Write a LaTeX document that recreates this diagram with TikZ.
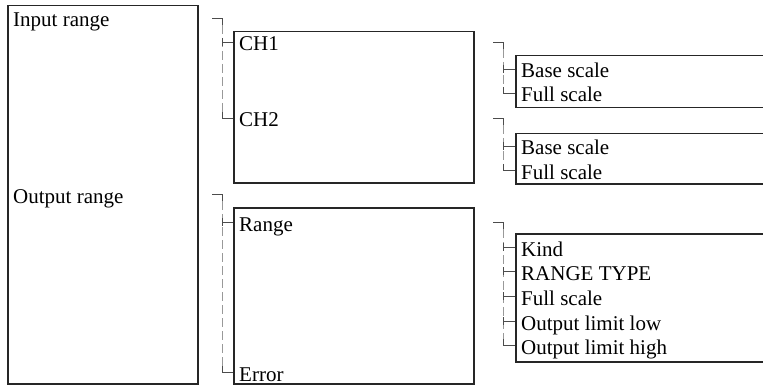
\documentclass[tikz,border=0pt]{standalone}
\usepackage{fontspec}
\setmainfont{Liberation Serif}
\usetikzlibrary{positioning}
\tikzset{
  panel/.style={
    draw=black!85,
    line width=1.5pt,
    anchor=north west,
    inner sep=0pt
  },
  item/.style={
    anchor=west,
    inner xsep=6pt,
    inner ysep=0pt,
    text height=20pt,
    text depth=2pt,
    font=\fontsize{21}{23}\selectfont
  },
  guide/.style={draw=black!40, line width=0.9pt, dash pattern=on 9pt off 4pt},
  tick/.style={draw=black!70, line width=0.8pt}
}

\begin{document}
\begin{tikzpicture}[x=1pt, y=-1pt]
        \useasboundingbox (0,0) rectangle (763,385);
        \clip (0,0) rectangle (763,385);

        % panels
        \node[panel, minimum width=190pt, minimum height=378pt] (pMain) at (7,5) {};
        \node[panel, minimum width=240pt, minimum height=151pt] (pInput) at (233,31) {};
        \node[panel, minimum width=240pt, minimum height=176pt] (pOutput) at (233,207) {};
        \node[panel, minimum width=260pt, minimum height=52pt] (pCHa) at (515,55) {};
        \node[panel, minimum width=260pt, minimum height=50pt] (pCHb) at (515,133) {};
        \node[panel, minimum width=260pt, minimum height=128pt] (pRange) at (515,233) {};

        % items
        \node[item] (inRange) at (7,18) {Input range};
        \node[item] (outRange) at (7,194) {Output range};

        \node[item] (ch1) at (233,42) {CH1};
        \node[item] (ch2) at (233,118) {CH2};
        \node[item] (rng) at (233,222) {Range};
        \node[item] (err) at (233,372) {Error};

        \node[item] (bs1) at (515,69) {Base scale};
        \node[item] (fs1) at (515,93) {Full scale};
        \node[item] (bs2) at (515,146) {Base scale};
        \node[item] (fs2) at (515,170) {Full scale};
        \node[item] (kind) at (515,247) {Kind};
        \node[item] (rtype) at (515,271) {RANGE TYPE};
        \node[item] (fs3) at (515,296) {Full scale};
        \node[item] (olow) at (515,321) {Output limit low};
        \node[item] (ohigh) at (515,345) {Output limit high};

        % tree lines
        \foreach \up/\gx/\kids/\last in {inRange/222/ch1/ch2, outRange/222/rng/err,
            ch1/503/bs1/fs1, ch2/503/bs2/fs2, rng/503/{kind,rtype,fs3,olow}/ohigh} {
            \coordinate (g) at (\gx,0);
            \draw[guide] ([yshift=-7pt]\up.west -| g) -- (\last.west -| g);
            \draw[tick] ([xshift=-10pt]\up.west -| g) -- (\up.west -| g) -- ([yshift=-7pt]\up.west -| g);
            \foreach \k in \kids {
                \draw[tick] ([yshift=4pt]\k.west -| g) -- ([yshift=-4pt]\k.west -| g)
                    (\k.west -| g) -- (\k.west);
            }
            \draw[tick] ([yshift=6pt]\last.west -| g) |- (\last.west);
        }
\end{tikzpicture}
\end{document}
